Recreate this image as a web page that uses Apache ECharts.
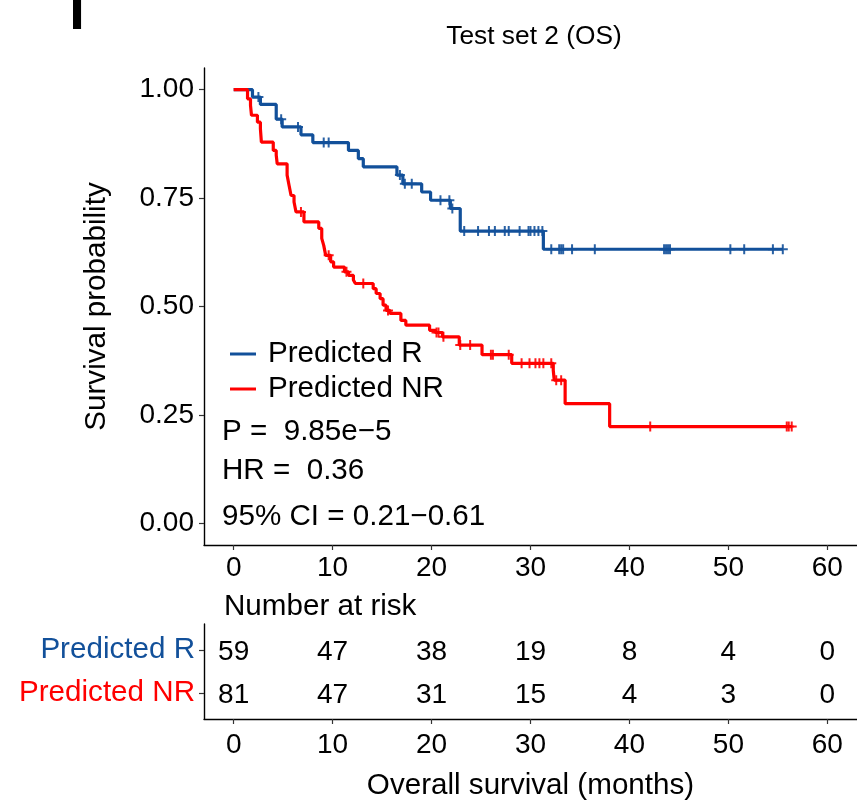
<!DOCTYPE html>
<html>
<head>
<meta charset="utf-8">
<script src="https://cdn.jsdelivr.net/npm/echarts@6/dist/echarts.min.js"></script>
<style>html,body{margin:0;padding:0;background:#fff}#c{width:857px;height:804px}</style>
</head>
<body>
<div id="c"></div>
<script>
// ---- data ----
const groupNames = ['Predicted R', 'Predicted NR'];
// Kaplan-Meier steps: [time (months), survival after the step]
const blueSteps = [[0,1.0],[1.9,0.983],[2.7,0.966],[4.3,0.932],[4.9,0.914],[6.8,0.896],[8.0,0.878],[11.6,0.860],[12.6,0.841],[13.1,0.822],[16.5,0.803],[17.1,0.783],[19.0,0.764],[19.9,0.745],[21.9,0.726],[22.9,0.674],[31.3,0.632]];
const blueEnd = 55.5;
const blueCensor = [2.5,4.8,6.5,9.1,9.6,16.8,17.3,18.0,20.9,21.8,22.1,23.3,24.7,25.8,26.4,27.4,27.8,28.9,29.8,30.0,30.4,30.8,31.2,32.1,32.9,33.1,33.3,34.2,36.5,43.5,43.7,43.9,44.1,50.2,51.6,54.5,55.5];
const redSteps = [[0,1.0],[1.4,0.979],[1.7,0.964],[1.8,0.941],[2.4,0.925],[2.7,0.910],[2.8,0.879],[4.0,0.860],[4.3,0.849],[4.4,0.829],[5.4,0.803],[5.6,0.779],[5.8,0.756],[6.1,0.741],[6.3,0.718],[7.1,0.695],[8.6,0.680],[8.9,0.657],[9.1,0.641],[9.3,0.618],[9.8,0.603],[10.1,0.591],[11.2,0.580],[11.6,0.572],[12.1,0.561],[12.3,0.553],[14.1,0.541],[14.4,0.530],[14.8,0.518],[15.1,0.503],[15.4,0.491],[15.8,0.484],[16.9,0.468],[17.4,0.457],[19.8,0.445],[20.4,0.440],[21.1,0.430],[22.8,0.411],[25.1,0.389],[28.1,0.369],[32.3,0.353],[32.4,0.330],[33.5,0.276],[38.0,0.223]];
const redEnd = 56.4;
const redCensor = [6.8,9.6,11.4,13.1,15.6,20.5,20.7,21.2,22.9,23.9,26.0,26.2,27.8,29.1,29.9,30.5,30.9,31.3,32.1,32.6,33.1,42.1,55.9,56.1,56.4];
const xTicks = [0,10,20,30,40,50,60];
const yTicks = [0,0.25,0.5,0.75,1.0];
const riskTimes = [0,10,20,30,40,50,60];
const riskR = [59,47,38,19,8,4,0];
const riskNR = [81,47,31,15,4,3,0];
const statLines = ['P =  9.85e\u22125', 'HR =  0.36', '95% CI = 0.21\u22120.61'];

// ---- styling ----
const BLUE = '#12509A', RED = '#FF0000';
const FONT = 'Liberation Sans, Arial, Helvetica, sans-serif';
const FS = 28;     // numbers
const FW = 29.6;   // words

function levelAt(steps, t) {
  let s = steps[0][1];
  for (const p of steps) { if (p[0] <= t) s = p[1]; else break; }
  return s;
}
function lineData(steps, end) {
  return steps.concat([[end, steps[steps.length - 1][1]]]);
}
function censorData(steps, times) {
  return times.map(t => [t, levelAt(steps, t)]);
}
const plus = 'path://M-2,-10 H2 V-2 H10 V2 H2 V10 H-2 V2 H-10 V-2 H-2 Z';

const axisLineStyle = { show: true, onZero: false, lineStyle: { color: '#000', width: 1.4 } };
const tickStyle = { show: true, length: 5, lineStyle: { color: '#333', width: 1.2 } };
const numLabel = { show: true, position: 'inside', color: '#000', opacity: 1, fontSize: FS, fontFamily: FONT,
  textBorderWidth: 0, textBorderColor: 'transparent', offset: [0, 2], formatter: p => String(p.value[2]) };

const chart = echarts.init(document.getElementById('c'), null, { renderer: 'canvas' });
chart.setOption({
  animation: false,
  textStyle: { fontFamily: FONT },
  grid: [
    { left: 204, top: 68, width: 660, height: 477 },
    { left: 204, top: 624, width: 660, height: 95 }
  ],
  xAxis: [
    { gridIndex: 0, type: 'value', min: -3, max: 63,
      axisLine: axisLineStyle, axisTick: Object.assign({ customValues: xTicks }, tickStyle),
      axisLabel: { customValues: xTicks, color: '#000', fontSize: FS, fontFamily: FONT, margin: 9 },
      splitLine: { show: false } },
    { gridIndex: 1, type: 'value', min: -3, max: 63,
      name: 'Overall survival (months)', nameLocation: 'middle', nameGap: 52,
      nameTextStyle: { color: '#000', fontSize: FW, fontFamily: FONT },
      axisLine: axisLineStyle, axisTick: Object.assign({ customValues: xTicks }, tickStyle),
      axisLabel: { customValues: xTicks, color: '#000', fontSize: FS, fontFamily: FONT, margin: 12 },
      splitLine: { show: false } }
  ],
  yAxis: [
    { gridIndex: 0, type: 'value', min: -0.05, max: 1.05,
      name: 'Survival probability', nameLocation: 'middle', nameGap: 92,
      nameTextStyle: { color: '#000', fontSize: FW, fontFamily: FONT },
      axisLine: axisLineStyle, axisTick: Object.assign({ customValues: yTicks }, tickStyle),
      axisLabel: { customValues: yTicks, color: '#000', fontSize: FS, fontFamily: FONT, margin: 10,
        formatter: v => v.toFixed(2) },
      splitLine: { show: false } },
    { gridIndex: 1, type: 'value', min: 0.4, max: 2.6, inverse: true,
      axisLine: axisLineStyle, axisTick: Object.assign({ customValues: [1, 2] }, tickStyle),
      axisLabel: { customValues: [1, 2], fontSize: FW, fontFamily: FONT, margin: 9,
        formatter: v => v === 1 ? '{r|' + groupNames[0] + '}' : '{n|' + groupNames[1] + '}',
        rich: { r: { color: BLUE, fontSize: FW, fontFamily: FONT }, n: { color: RED, fontSize: FW, fontFamily: FONT } } },
      splitLine: { show: false } }
  ],
  legend: {
    orient: 'vertical', left: 230, top: 339, itemWidth: 26, itemHeight: 3, itemGap: 5,
    icon: 'rect', padding: 0,
    data: groupNames,
    textStyle: { color: '#000', fontSize: FW, fontFamily: FONT, padding: [0, 0, 0, 7], lineHeight: 30 }
  },
  series: [
    { name: groupNames[0], type: 'line', step: 'end', xAxisIndex: 0, yAxisIndex: 0,
      data: lineData(blueSteps, blueEnd), showSymbol: false, symbol: 'none',
      lineStyle: { color: BLUE, width: 3.2 }, itemStyle: { color: BLUE } },
    { name: 'cR', type: 'scatter', xAxisIndex: 0, yAxisIndex: 0,
      data: censorData(blueSteps, blueCensor), symbol: plus, symbolSize: 10,
      itemStyle: { color: BLUE, opacity: 0.9 } },
    { name: groupNames[1], type: 'line', step: 'end', xAxisIndex: 0, yAxisIndex: 0,
      data: lineData(redSteps, redEnd), showSymbol: false, symbol: 'none',
      lineStyle: { color: RED, width: 3.2 }, itemStyle: { color: RED } },
    { name: 'cNR', type: 'scatter', xAxisIndex: 0, yAxisIndex: 0,
      data: censorData(redSteps, redCensor), symbol: plus, symbolSize: 10,
      itemStyle: { color: RED, opacity: 0.9 } },
    { name: 'riskR', type: 'scatter', xAxisIndex: 1, yAxisIndex: 1, symbolSize: 0,
      itemStyle: { color: '#000', opacity: 1 },
      data: riskTimes.map((t, i) => [t, 1, riskR[i]]), label: numLabel },
    { name: 'riskNR', type: 'scatter', xAxisIndex: 1, yAxisIndex: 1, symbolSize: 0,
      itemStyle: { color: '#000', opacity: 1 },
      data: riskTimes.map((t, i) => [t, 2, riskNR[i]]), label: numLabel }
  ],
  graphic: [
    { type: 'text', x: 77, y: 14, style: { text: 'I', fontSize: 56, fontWeight: 'bold', fontFamily: FONT, fill: '#000', align: 'center', verticalAlign: 'middle' } },
    { type: 'text', x: 534, y: 37, style: { text: 'Test set 2 (OS)', fontSize: 26.3, fontFamily: FONT, fill: '#000', align: 'center', verticalAlign: 'middle' } },
    { type: 'text', x: 222, y: 432, style: { text: statLines[0], fontSize: FW, fontFamily: FONT, fill: '#000', align: 'left', verticalAlign: 'middle' } },
    { type: 'text', x: 222, y: 471, style: { text: statLines[1], fontSize: FW, fontFamily: FONT, fill: '#000', align: 'left', verticalAlign: 'middle' } },
    { type: 'text', x: 222, y: 517, style: { text: statLines[2], fontSize: FW, fontFamily: FONT, fill: '#000', align: 'left', verticalAlign: 'middle' } },
    { type: 'text', x: 224, y: 607, style: { text: 'Number at risk', fontSize: FW, fontFamily: FONT, fill: '#000', align: 'left', verticalAlign: 'middle' } }
  ]
});
</script>
</body>
</html>
